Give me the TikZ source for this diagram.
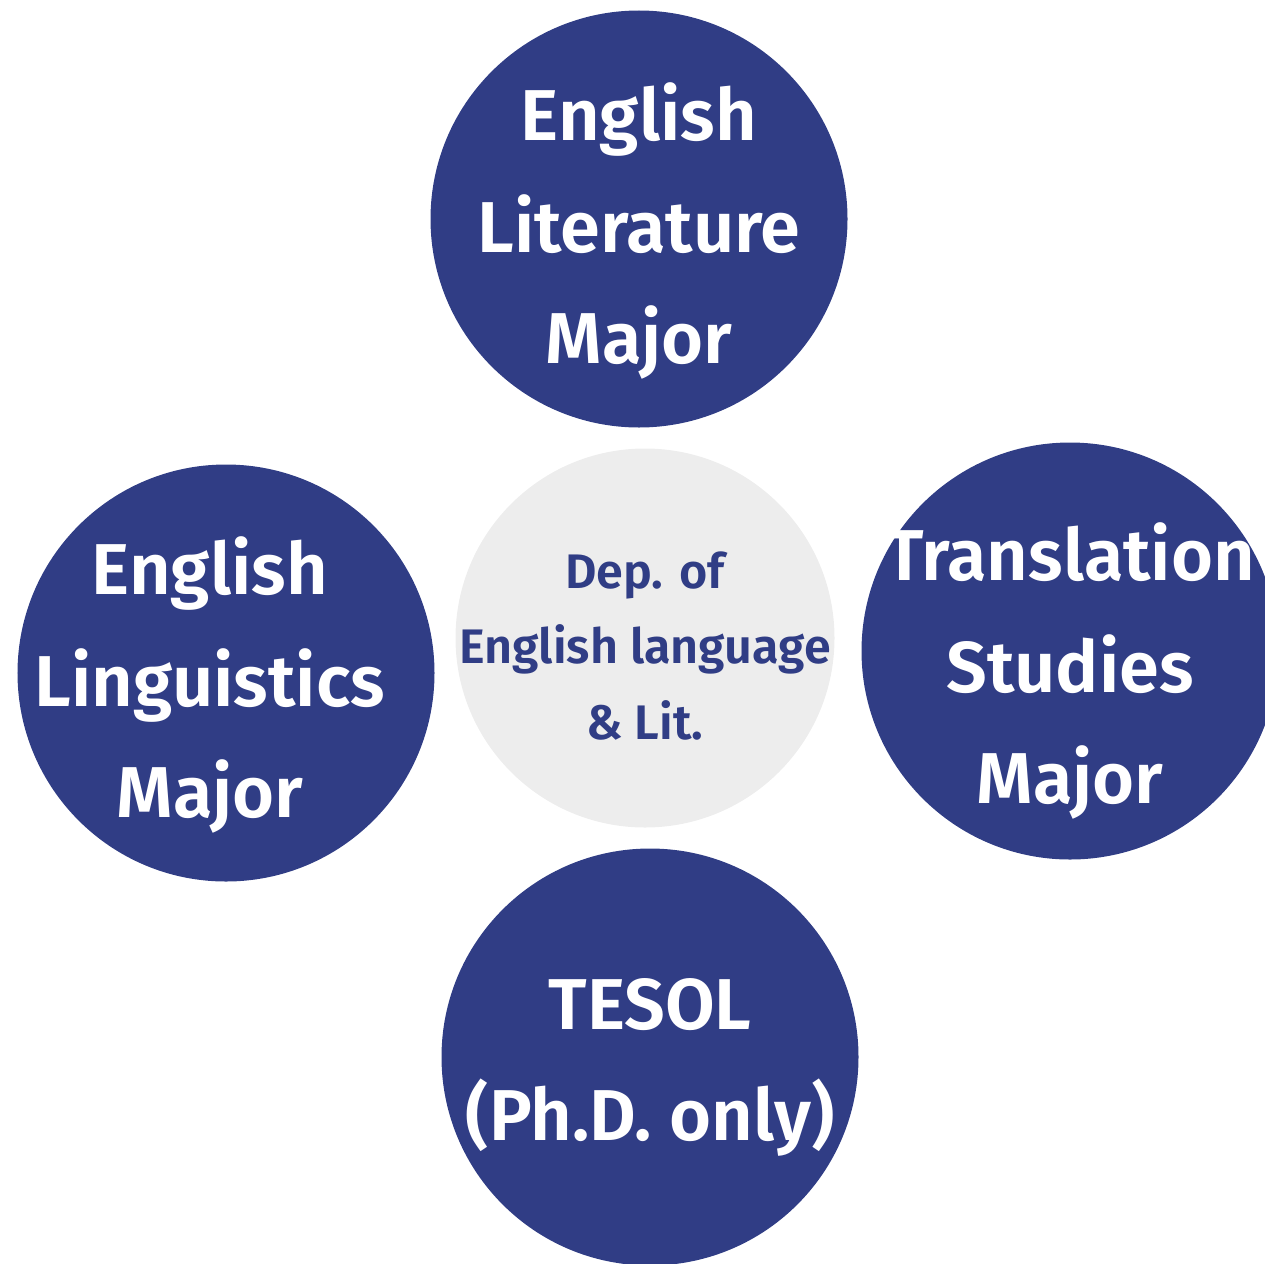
\documentclass[tikz,border=0pt]{standalone}
\usepackage{fontspec}
\setmainfont{Fira Sans}[BoldFont={Fira Sans SemiBold}]
\definecolor{majorblue}{HTML}{303D85}
\definecolor{deptgray}{HTML}{EDEDED}
\usepackage{tikz}
\usetikzlibrary{positioning}

\begin{document}
\begin{tikzpicture}[
    major/.style={circle,fill=majorblue,minimum size=4.17cm,inner sep=0pt},
    majortext/.style={text=white,align=center,font=\fontsize{20.5}{31.6}\selectfont\bfseries},
    dept/.style={circle,fill=deptgray,minimum size=3.79cm,inner sep=0pt},
    depttext/.style={text=majorblue,align=center,font=\fontsize{13.8}{21.5}\selectfont\bfseries}]
  \useasboundingbox (0,0) rectangle (12.65,12.63);
  \clip (0,0) rectangle (12.65,12.63);
  % department in the middle
  \node[dept,label={[depttext,yshift=-0.08cm]center:Dep. of\\English language\\\& Lit.}] (dep) at (6.45,6.25) {};
  % the four majors around it
  \node[major,label={[majortext,yshift=-0.12cm]center:English\\Literature\\Major}] (lit) at (6.39,10.44) {};
  \node[major,label={[majortext,xshift=-0.16cm,yshift=-0.12cm]center:English\\Linguistics\\Major}] (ling) at (2.26,5.90) {};
  \node[major,label={[majortext,yshift=-0.2cm]center:Translation\\Studies\\Major}] (trans) at (10.70,6.12) {};
  \node[major,label={[majortext,yshift=-0.1cm]center:TESOL\\(Ph.D. only)}] (tesol) at (6.50,2.06) {};
\end{tikzpicture}
\end{document}
